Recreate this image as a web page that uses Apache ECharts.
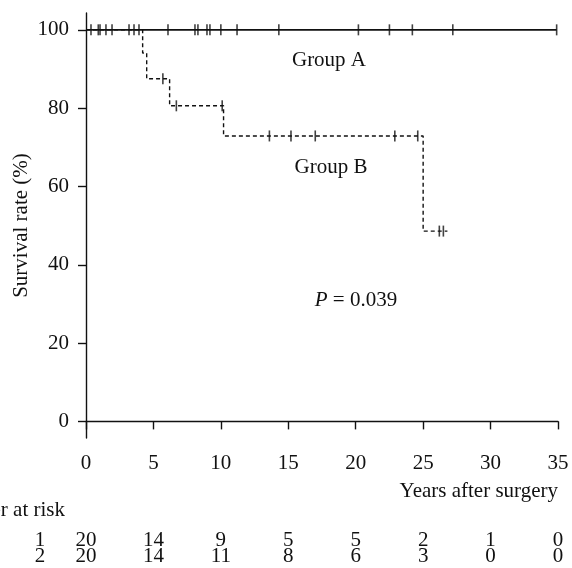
<!DOCTYPE html>
<html>
<head>
<meta charset="utf-8">
<script src="https://cdn.jsdelivr.net/npm/echarts@6/dist/echarts.min.js"></script>
<style>
  html, body { margin: 0; padding: 0; background: #fff; }
  #chart { width: 572px; height: 568px; }
</style>
</head>
<body>
<div id="chart"></div>
<script>
// group A: no events, only censored follow-up times (years)
const groupAEnd = 34.9;
const groupACensor = [0.37, 0.91, 1.04, 1.48, 1.93, 3.19, 3.56, 3.93, 6.08, 8.08, 8.3, 8.97, 9.19, 10.0, 11.2, 14.3, 20.2, 22.5, 24.2, 27.2, 34.9];
// group B: step points of the KM curve
const groupBTimes = [0, 4.2, 4.5, 6.2, 10.2, 25.0, 26.8];
const groupBSurv = [100, 94.1, 87.5, 80.6, 72.9, 48.6, 48.6];
const groupBCensor = [5.7, 6.7, 10.1, 13.6, 15.2, 17.0, 22.9, 24.6, 26.2, 26.5];
// number at risk
const riskTimes = [0, 5, 10, 15, 20, 25, 30, 35];
const riskGroup1 = [20, 14, 9, 5, 5, 2, 1, 0];
const riskGroup2 = [20, 14, 11, 8, 6, 3, 0, 0];
const yTicks = [0, 20, 40, 60, 80, 100];

const FONT = "'Liberation Serif', 'Times New Roman', serif";
const FS = 21;
const INK = '#111';

// survival of group B at time t (step lookup)
function survB(t) {
  let s = groupBSurv[0];
  groupBTimes.forEach((x, i) => { if (x <= t) s = groupBSurv[i]; });
  return s;
}

const chart = echarts.init(document.getElementById('chart'));

const tickMark = {
  type: 'scatter',
  symbol: 'rect',
  symbolSize: [1.6, 11],
  itemStyle: { color: INK },
  silent: true,
  z: 3
};

chart.setOption({
  backgroundColor: '#fff',
  animation: false,
  textStyle: { fontFamily: FONT },
  grid: { left: 86, right: 14, top: 13, bottom: 130, outerBoundsMode: 'none' },
  xAxis: {
    type: 'value',
    min: 0,
    max: 35,
    interval: 5,
    axisLine: { show: true, lineStyle: { color: INK, width: 1.4 } },
    axisTick: { show: true, length: 8, lineStyle: { color: INK, width: 1.4 } },
    axisLabel: { margin: 15, fontSize: FS, color: INK, fontFamily: FONT },
    splitLine: { show: false }
  },
  yAxis: {
    type: 'value',
    min: -4.24,
    max: 104.3,
    name: 'Survival rate (%)',
    nameLocation: 'middle',
    nameRotate: 90,
    nameGap: 54,
    nameMoveOverlap: false,
    nameTextStyle: { fontSize: FS, color: INK, fontFamily: FONT },
    axisLine: { show: true, lineStyle: { color: INK, width: 1.4 } },
    axisTick: { show: true, length: 8, customValues: yTicks, lineStyle: { color: INK, width: 1.4 } },
    axisLabel: { margin: 17, fontSize: FS, color: INK, fontFamily: FONT, customValues: yTicks },
    splitLine: { show: false }
  },
  series: [
    {
      name: 'Group A',
      type: 'line',
      data: [[0, 100], [groupAEnd, 100]],
      symbol: 'none',
      lineStyle: { color: INK, width: 1.6 },
      silent: true
    },
    Object.assign({}, tickMark, {
      name: 'Group A censored',
      data: groupACensor.map(t => [t, 100])
    }),
    {
      name: 'Group B',
      type: 'line',
      step: 'end',
      data: groupBTimes.map((t, i) => [t, groupBSurv[i]]),
      symbol: 'none',
      lineStyle: { color: INK, width: 1.4, type: [4, 3] },
      silent: true
    },
    Object.assign({}, tickMark, {
      name: 'Group B censored',
      data: groupBCensor.map(t => [t, survB(t)])
    })
  ]
});

// annotations and the number-at-risk table
const txt = (text, x, y, align, extra) => ({
  type: 'text',
  x, y,
  silent: true,
  style: Object.assign({
    text,
    fontSize: FS,
    fontFamily: FONT,
    fill: INK,
    align: align || 'center',
    verticalAlign: 'middle'
  }, extra || {})
});

const graphics = [
  txt('Group A', 329, 60),
  txt('Group B', 331, 167),
  {
    type: 'text', x: 356, y: 300, silent: true,
    style: {
      text: '{i|P} = 0.039',
      fontSize: FS, fontFamily: FONT, fill: INK, align: 'center', verticalAlign: 'middle',
      rich: { i: { fontStyle: 'italic', fontSize: FS, fontFamily: FONT, fill: INK } }
    }
  },
  txt('Years after surgery', 558, 491, 'right'),
  txt('Number at risk', 65, 510, 'right'),
  txt('1', 40, 540),
  txt('2', 40, 556)
];
riskTimes.forEach((t, i) => {
  const px = chart.convertToPixel({ xAxisIndex: 0 }, t);
  graphics.push(txt(String(riskGroup1[i]), px, 540));
  graphics.push(txt(String(riskGroup2[i]), px, 556));
});
chart.setOption({ graphic: graphics });
</script>
</body>
</html>
